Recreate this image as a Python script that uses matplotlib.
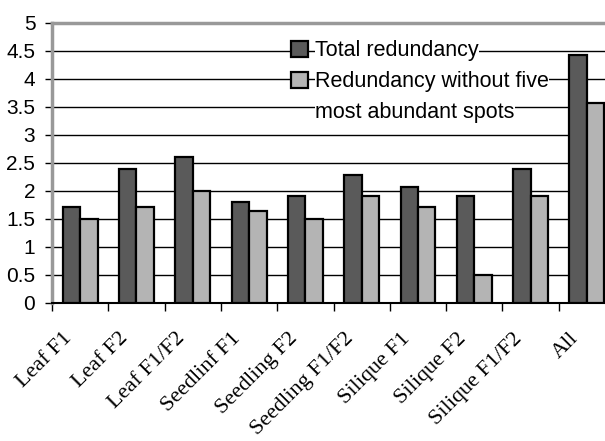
import numpy as np
import matplotlib
matplotlib.use("Agg")
import matplotlib.pyplot as plt
from matplotlib.patches import Rectangle
from matplotlib.transforms import ScaledTranslation

samples = ["Leaf F1", "Leaf F2", "Leaf F1/F2", "Seedlinf F1", "Seedling F2",
           "Seedling F1/F2", "Silique F1", "Silique F2", "Silique F1/F2", "All"]
total = [1.7, 2.38, 2.6, 1.8, 1.9, 2.28, 2.07, 1.9, 2.38, 4.42]
without5 = [1.5, 1.7, 2.0, 1.64, 1.5, 1.9, 1.7, 0.5, 1.9, 3.57]
yticks = [0, 0.5, 1, 1.5, 2, 2.5, 3, 3.5, 4, 4.5, 5]

dark = "#5a5a5a"
light = "#b4b4b4"

fig = plt.figure(figsize=(6.05, 4.41), dpi=100)
ax = fig.add_axes([0.086, 0.3136, 0.9306, 0.635])

x = np.arange(len(samples))
w = 0.31
ax.bar(x - w / 2, total, w, color=dark, edgecolor="black", linewidth=1.6, zorder=3)
ax.bar(x + w / 2, without5, w, color=light, edgecolor="black", linewidth=1.6, zorder=3)

ax.set_xlim(-0.5, len(samples) - 0.5)
ax.set_ylim(0, 5)
ax.set_yticks(yticks)
ax.set_yticklabels(["%g" % v for v in yticks], family="Liberation Sans", fontsize=15)
ax.yaxis.grid(True, color="black", linewidth=1, zorder=0)
ax.tick_params(axis="y", direction="out", length=5, width=1, pad=7)

# ticks between categories, labels at category centres
ax.set_xticks(np.arange(len(samples) + 1) - 0.5)
ax.set_xticklabels([])
ax.tick_params(axis="x", which="major", direction="out", length=6, width=1)
ax.set_xticks(x, minor=True)
ax.set_xticklabels(samples, minor=True, rotation=45, ha="right", va="top",
                   family="Liberation Serif", fontsize=16)
ax.tick_params(axis="x", which="minor", length=0, pad=19)
shift = ScaledTranslation(-3 / 72, 0, fig.dpi_scale_trans)
for lbl in ax.get_xticklabels(minor=True):
    lbl.set_transform(lbl.get_transform() + shift)

for side in ["left", "top", "right"]:
    ax.spines[side].set_color("#999999")
    ax.spines[side].set_linewidth(2.5)
ax.spines["bottom"].set_color("black")
ax.spines["bottom"].set_linewidth(1.5)

handles = [Rectangle((0, 0), 1, 1, facecolor=dark, edgecolor="black", linewidth=1.6),
           Rectangle((0, 0), 1, 1, facecolor=light, edgecolor="black", linewidth=1.6),
           Rectangle((0, 0), 1, 1, visible=False)]
labels = ["Total redundancy", "Redundancy without five", "most abundant spots"]
leg = ax.legend(handles, labels, loc="upper left", bbox_to_anchor=(0.405, 0.975),
                frameon=False, borderpad=0, handlelength=0.78, handleheight=0.78,
                handletextpad=0.35, labelspacing=0.45,
                prop={"family": "Liberation Sans", "size": 15.5})
for t in leg.get_texts():
    t.set_bbox(dict(facecolor="white", edgecolor="none", pad=0))
leg.set_zorder(5)

plt.savefig("out.png", dpi=100)
